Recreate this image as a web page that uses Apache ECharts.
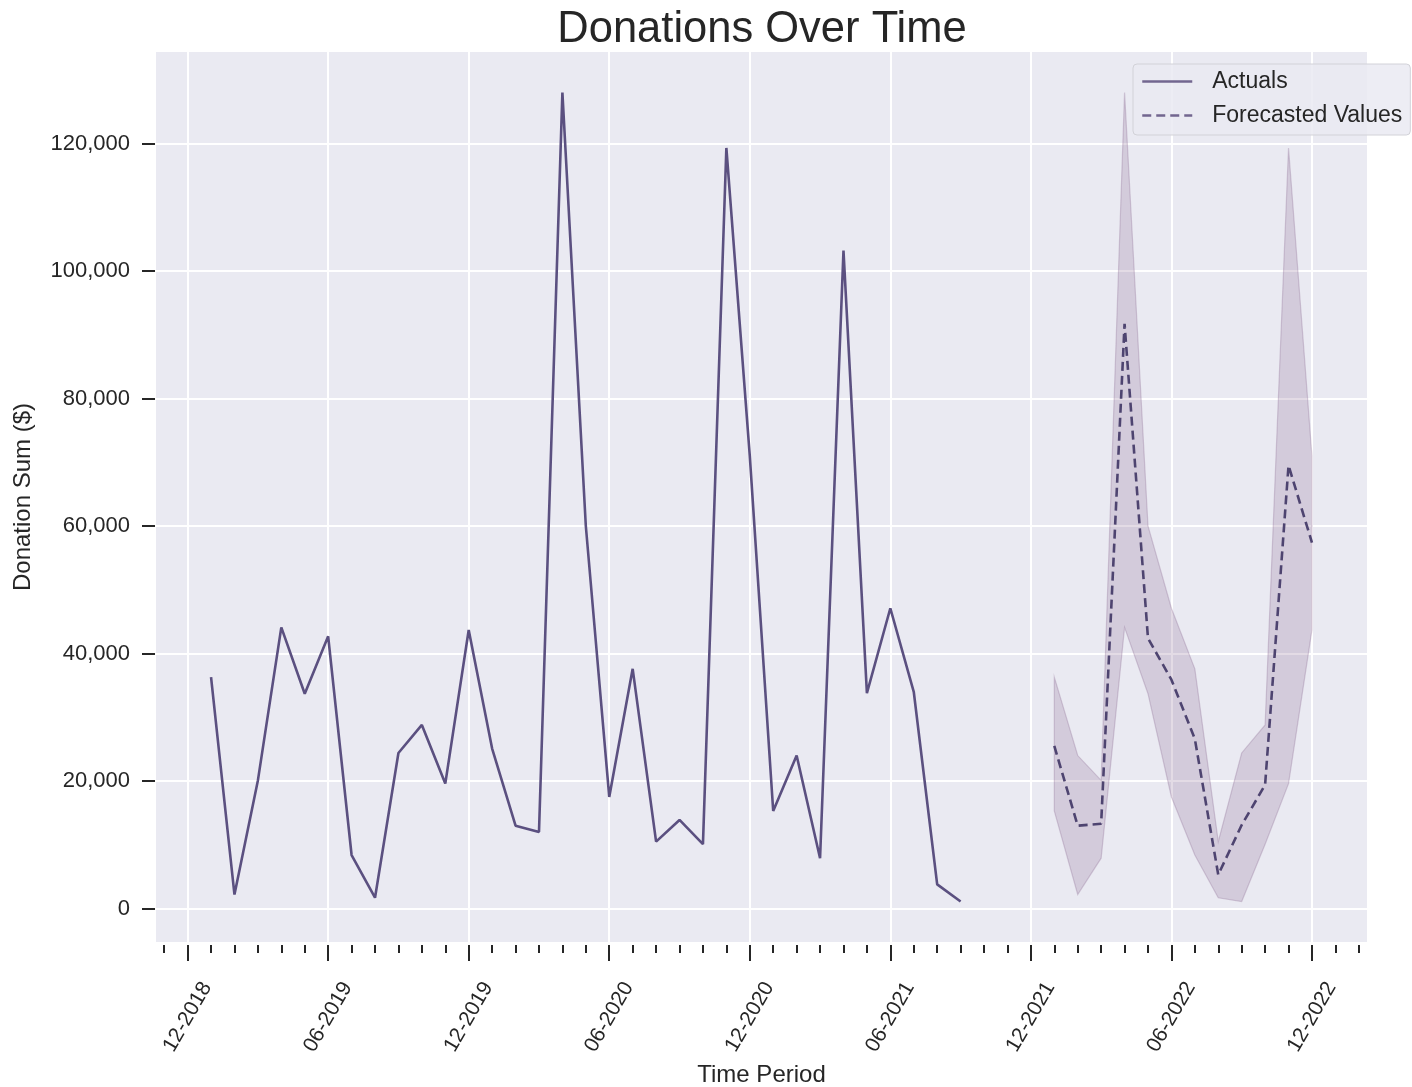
<!DOCTYPE html>
<html>
<head>
<meta charset="utf-8">
<title>Donations Over Time</title>
<script src="https://cdn.jsdelivr.net/npm/echarts@6/dist/echarts.min.js"></script>
<style>
  html, body { margin: 0; padding: 0; background: #ffffff; }
  #chart { width: 1412px; height: 1087px; }
</style>
</head>
<body>
<div id="chart"></div>
<script>
// Monthly donation sums (actuals)
const actualPeriods = [
  '2019-01','2019-02','2019-03','2019-04','2019-05','2019-06','2019-07','2019-08','2019-09','2019-10','2019-11','2019-12',
  '2020-01','2020-02','2020-03','2020-04','2020-05','2020-06','2020-07','2020-08','2020-09','2020-10','2020-11','2020-12',
  '2021-01','2021-02','2021-03','2021-04','2021-05','2021-06','2021-07','2021-08','2021-09'
];
const actualValues = [
  36300, 2200, 20100, 44100, 33700, 42700, 8400, 1700, 24400, 28800, 19600, 43700,
  25100, 13000, 12000, 128000, 60000, 17500, 37600, 10500, 13900, 10100, 119300, 71000,
  15300, 24000, 7900, 103200, 33800, 47100, 34000, 3800, 1100
];

// Forecast for 2022 with its lower / upper range
const forecastPeriods = [
  '2022-01','2022-02','2022-03','2022-04','2022-05','2022-06','2022-07','2022-08','2022-09','2022-10','2022-11','2022-12'
];
const forecastValues = [25500, 13000, 13300, 91700, 42400, 35900, 26600, 5300, 13100, 19400, 69500, 57400];
const forecastLower  = [15300, 2200, 7900, 44100, 33700, 17500, 8400, 1700, 1100, 10100, 19600, 43700];
const forecastUpper  = [36300, 24000, 20100, 128000, 60000, 47100, 37600, 10500, 24400, 28800, 119300, 71000];

// Axis ticks
const xTickLabels = ['12-2018','06-2019','12-2019','06-2020','12-2020','06-2021','12-2021','06-2022','12-2022'];
const yTickValues = [0, 20000, 40000, 60000, 80000, 100000, 120000];

// Months counted from Dec 2017, so Dec 2018 = 12 and every 6 months is a labelled tick
function monthIndex(period) {
  const [y, m] = period.split('-').map(Number);
  return (y - 2017) * 12 + (m - 12);
}
const xMajorValues = xTickLabels.map((_, i) => 12 + 6 * i);
const xMinorValues = [];
for (let v = 11; v <= 62; v++) xMinorValues.push(v);

const actualData = actualPeriods.map((p, i) => [monthIndex(p), actualValues[i]]);
const forecastData = forecastPeriods.map((p, i) => [monthIndex(p), forecastValues[i]]);

const FONT = '"Liberation Sans", Arial, sans-serif';
const TEXT = '#262626';

const chart = echarts.init(document.getElementById('chart'), null, { renderer: 'canvas' });

chart.setOption({
  backgroundColor: '#ffffff',
  animation: false,
  title: {
    text: 'Donations Over Time',
    left: 757,
    textAlign: 'center',
    top: 3,
    textStyle: { fontFamily: FONT, fontSize: 43.5, fontWeight: 'normal', color: TEXT }
  },
  grid: {
    left: 156, top: 52, right: 45, bottom: 145,
    outerBoundsMode: 'none',
    containLabel: false,
    show: true, backgroundColor: '#eaeaf2', borderWidth: 0
  },
  legend: {
    orient: 'vertical',
    left: 1133, top: 64,
    padding: [6, 8, 8, 8],
    itemGap: 11,
    itemWidth: 50, itemHeight: 22,
    backgroundColor: 'rgba(234,234,242,0.85)',
    borderColor: '#d2d2d8', borderWidth: 1, borderRadius: 4,
    itemStyle: { opacity: 0 },
    lineStyle: { width: 2.5, color: '#72668f' },
    textStyle: { fontFamily: FONT, fontSize: 23, color: TEXT, padding: [0, 0, 0, 15] },
    data: ['Actuals', 'Forecasted Values']
  },
  xAxis: [
    {
      type: 'value',
      position: 'bottom',
      min: 10.65, max: 62.35,
      offset: 3,
      axisLine: { show: false, onZero: false },
      axisTick: { show: true, length: 16, customValues: xMajorValues, lineStyle: { color: TEXT, width: 2 } },
      splitLine: { show: true, lineStyle: { color: '#ffffff', width: 2 } },
      axisLabel: {
        customValues: xMajorValues,
        rotate: 60,
        align: 'center', verticalAlign: 'middle',
        margin: 72,
        fontFamily: FONT, fontSize: 21, color: TEXT,
        formatter: v => xTickLabels[Math.round((v - 12) / 6)] || ''
      },
      name: 'Time Period',
      nameLocation: 'middle',
      nameGap: 109,
      nameTextStyle: { fontFamily: FONT, fontSize: 24, color: TEXT }
    },
    {
      type: 'value',
      position: 'bottom',
      min: 10.65, max: 62.35,
      offset: 3,
      axisLine: { show: false, onZero: false },
      axisTick: { show: true, length: 8, customValues: xMinorValues, lineStyle: { color: TEXT, width: 2 } },
      splitLine: { show: false },
      axisLabel: { show: false }
    }
  ],
  yAxis: {
    type: 'value',
    min: -5245, max: 134345,
    offset: 1,
    axisLine: { show: false, onZero: false },
    axisTick: { show: true, length: 13, customValues: yTickValues, lineStyle: { color: TEXT, width: 2 } },
    splitLine: { show: true, lineStyle: { color: '#ffffff', width: 2 } },
    axisLabel: {
      customValues: yTickValues,
      margin: 25,
      fontFamily: FONT, fontSize: 22, color: TEXT,
      formatter: v => v.toLocaleString('en-US')
    },
    name: 'Donation Sum ($)',
    nameLocation: 'middle',
    nameGap: 120,
    nameTextStyle: { fontFamily: FONT, fontSize: 24, color: TEXT }
  },
  series: [
    {
      name: 'Forecast range',
      type: 'custom',
      xAxisIndex: 0, yAxisIndex: 0,
      silent: true,
      z: 1,
      data: [[forecastData[0][0], forecastLower[0]]],
      renderItem: (params, api) => {
        const top = forecastPeriods.map((p, i) => api.coord([monthIndex(p), forecastUpper[i]]));
        const bottom = forecastPeriods.map((p, i) => api.coord([monthIndex(p), forecastLower[i]])).reverse();
        return {
          type: 'polygon',
          shape: { points: top.concat(bottom) },
          style: { fill: 'rgba(140,106,146,0.24)', stroke: 'rgba(140,106,146,0.3)', lineWidth: 1.2 }
        };
      }
    },
    {
      name: 'Actuals',
      type: 'line',
      xAxisIndex: 0, yAxisIndex: 0,
      data: actualData,
      showSymbol: false, symbol: 'none',
      z: 3,
      lineStyle: { color: '#5b5080', width: 2.6 },
      itemStyle: { color: '#5b5080' }
    },
    {
      name: 'Forecasted Values',
      type: 'line',
      xAxisIndex: 0, yAxisIndex: 0,
      data: forecastData,
      showSymbol: false, symbol: 'none',
      z: 3,
      lineStyle: { color: '#4e4470', width: 2.6, type: [9, 5] },
      itemStyle: { color: '#4e4470' }
    }
  ]
});
</script>
</body>
</html>
